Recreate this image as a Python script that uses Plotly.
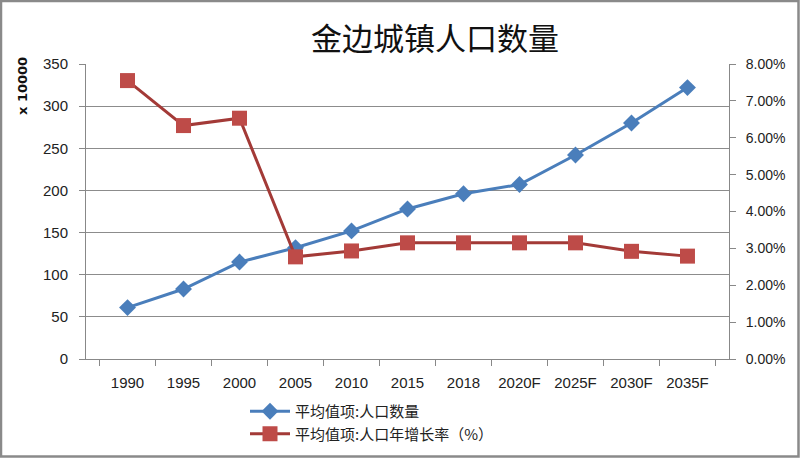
import plotly.graph_objects as go

categories = ["1990", "1995", "2000", "2005", "2010", "2015", "2018", "2020F", "2025F", "2030F", "2035F"]
population = [61, 83, 115, 132, 152, 178, 196, 207, 242, 280, 322]
growth_rate = [7.55, 6.33, 6.53, 2.77, 2.93, 3.15, 3.15, 3.15, 3.15, 2.92, 2.79]

pop_name = "平均值项:人口数量"
rate_name = "平均值项:人口年增长率（%）"
title_text = "金边城镇人口数量"
left_title = "x 10000"

W, H = 800, 458
ml, mr, mt, mb = 86, 71, 64, 99
pw, ph = W - ml - mr, H - mt - mb

fig = go.Figure()
fig.add_trace(go.Scatter(
    x=categories, y=population, name=pop_name, mode="lines+markers",
    line=dict(color="#4A7EBB", width=3),
    marker=dict(symbol="diamond", size=13, color="#4A7EBB"),
    yaxis="y",
))
fig.add_trace(go.Scatter(
    x=categories, y=[v / 100 for v in growth_rate], name=rate_name, mode="lines+markers",
    line=dict(color="#A33A37", width=3),
    marker=dict(symbol="square", size=15, color="#BE4B48"),
    yaxis="y2",
))

font_main = "Liberation Sans, Arial, sans-serif"
fig.update_layout(
    width=W, height=H,
    margin=dict(l=ml, r=mr, t=mt, b=mb, autoexpand=False),
    paper_bgcolor="white", plot_bgcolor="white",
    showlegend=True,
    legend=dict(
        x=(245 - ml) / pw, y=-(395 - H + mb) / ph, xanchor="left", yanchor="top",
        orientation="v", font=dict(family="Noto Sans CJK SC", size=15, color="#222"),
        bgcolor="rgba(0,0,0,0)", tracegroupgap=0, itemwidth=40,
    ),
    xaxis=dict(
        type="category", tickson="boundaries", ticks="outside", ticklen=6,
        tickcolor="#888", showline=True, linecolor="#888", linewidth=1,
        showgrid=False, tickfont=dict(family=font_main, size=15, color="#222"),
        automargin=False, ticklabelstandoff=10,
    ),
    yaxis=dict(
        range=[0, 350], dtick=50, showgrid=True, gridcolor="#8c8c8c", gridwidth=1,
        showline=True, linecolor="#888", ticks="outside", ticklen=6, tickcolor="#888",
        tickfont=dict(family=font_main, size=15, color="#222"), zeroline=False,
        automargin=False, ticklabelstandoff=8,
    ),
    yaxis2=dict(
        range=[0, 0.08], dtick=0.01, tickformat=".2%", overlaying="y", side="right",
        showgrid=False, showline=True, linecolor="#888", ticks="outside", ticklen=6,
        tickcolor="#888", zeroline=False, automargin=False, ticklabelstandoff=7,
        tickfont=dict(family=font_main, size=14, color="#222"),
    ),
    title=dict(
        text=title_text, x=435 / W, xanchor="center", y=1 - 39 / H, yanchor="middle",
        font=dict(family="Noto Sans CJK SC", size=31, color="#111"),
        automargin=False,
    ),
)

# left axis title placed at top-left like the reference
fig.add_annotation(
    text="<b>" + left_title + "</b>", xref="paper", yref="paper",
    x=-(ml - 22) / pw, y=1 - (86 - mt) / ph, xanchor="center", yanchor="middle",
    textangle=-90, showarrow=False,
    font=dict(family="DejaVu Sans", size=13, color="#111"),
)

# outer gray frame around the whole image
fig.add_shape(
    type="rect", xref="paper", yref="paper",
    x0=-(ml - 1) / pw, x1=1 + (mr - 1.5) / pw,
    y0=-(mb - 1.5) / ph, y1=1 + (mt - 1) / ph,
    line=dict(color="#8a8a8a", width=2.5), layer="above",
)

fig.write_html(
    "out.html",
    config={"displayModeBar": False},
    post_script="document.body.style.margin='0';document.body.style.overflow='hidden';",
)
